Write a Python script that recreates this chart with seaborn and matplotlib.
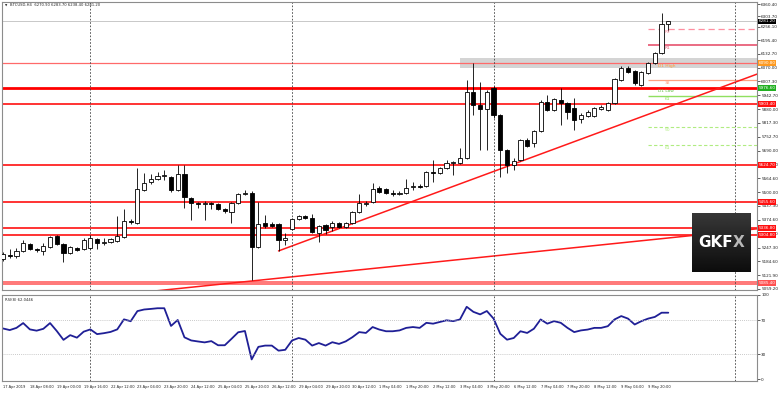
import numpy as np
import pandas as pd
import matplotlib
matplotlib.use("Agg")
import matplotlib.pyplot as plt
import seaborn as sns

# BTCUSD H4 candles
opens = [5195, 5213, 5209, 5232, 5264, 5241, 5232, 5250, 5300, 5264,
         5223, 5245, 5241, 5245, 5287, 5268, 5273, 5277, 5296, 5369,
         5360, 5510, 5547, 5561, 5574, 5570, 5510, 5584, 5474, 5451,
         5446, 5451, 5446, 5424, 5410, 5451, 5492, 5497, 5250, 5360,
         5355, 5355, 5282, 5332, 5378, 5392, 5382, 5314, 5350, 5341,
         5360, 5341, 5360, 5410, 5446, 5456, 5520, 5515, 5497, 5494,
         5497, 5524, 5529, 5529, 5590, 5588, 5611, 5634, 5634, 5657,
         5958, 5899, 5881, 5977, 5853, 5693, 5625, 5648, 5739, 5725,
         5780, 5913, 5876, 5922, 5908, 5885, 5835, 5849, 5849, 5881,
         5876, 5908, 6013, 6068, 6054, 5990, 6045, 6091, 6137, 6270.9]
highs = [5227, 5241, 5245, 5282, 5268, 5245, 5268, 5300, 5305, 5268,
         5255, 5250, 5291, 5305, 5291, 5291, 5291, 5392, 5424, 5378,
         5611, 5588, 5584, 5593, 5602, 5574, 5625, 5625, 5478, 5455,
         5460, 5456, 5451, 5428, 5455, 5497, 5510, 5506, 5456, 5396,
         5364, 5360, 5314, 5382, 5396, 5396, 5401, 5350, 5355, 5369,
         5364, 5364, 5414, 5492, 5460, 5542, 5529, 5520, 5510, 5506,
         5561, 5547, 5538, 5597, 5648, 5616, 5648, 5643, 5702, 6013,
         6091, 6004, 5967, 5985, 5858, 5698, 5657, 5744, 5748, 5785,
         5922, 5945, 5931, 5977, 5913, 5931, 5862, 5876, 5890, 5899,
         5913, 6022, 6077, 6077, 6059, 6054, 6095, 6141, 6320, 6283.7]
lows = [5186, 5200, 5200, 5227, 5236, 5227, 5213, 5245, 5259, 5181,
        5218, 5232, 5236, 5241, 5241, 5259, 5268, 5273, 5291, 5355,
        5355, 5506, 5538, 5556, 5556, 5501, 5506, 5428, 5373, 5428,
        5373, 5423, 5419, 5405, 5360, 5446, 5487, 5099, 5245, 5337,
        5341, 5232, 5259, 5327, 5373, 5378, 5314, 5273, 5309, 5323,
        5337, 5337, 5355, 5405, 5437, 5451, 5497, 5492, 5483, 5487,
        5492, 5510, 5519, 5524, 5547, 5584, 5606, 5579, 5629, 5652,
        5853, 5693, 5693, 5840, 5570, 5588, 5602, 5643, 5707, 5707,
        5775, 5871, 5871, 5807, 5835, 5785, 5817, 5844, 5844, 5876,
        5871, 5904, 6009, 6045, 5990, 5986, 6040, 6086, 6132, 6238.4]
closes = [5218, 5209, 5232, 5268, 5241, 5236, 5255, 5296, 5264, 5223,
          5250, 5236, 5282, 5291, 5268, 5273, 5287, 5300, 5369, 5364,
          5515, 5542, 5561, 5574, 5577, 5510, 5584, 5478, 5451, 5446,
          5451, 5446, 5424, 5414, 5451, 5492, 5497, 5250, 5355, 5346,
          5346, 5282, 5291, 5378, 5392, 5382, 5318, 5346, 5328, 5360,
          5341, 5360, 5410, 5451, 5451, 5515, 5501, 5497, 5494, 5497,
          5520, 5529, 5526, 5593, 5588, 5611, 5634, 5638, 5657, 5958,
          5899, 5881, 5958, 5853, 5693, 5625, 5643, 5739, 5712, 5780,
          5913, 5876, 5926, 5908, 5867, 5830, 5853, 5867, 5885, 5890,
          5908, 6018, 6068, 6050, 5999, 6050, 6091, 6137, 6271, 6281.2]

rsi_values = [60.3, 58.4, 61, 66.7, 59.2, 57.7, 59.9, 66.7, 57.3, 46.8,
              52.4, 49.4, 56.5, 59.2, 53.6, 54.7, 56.2, 59.2, 71.1, 68.9,
              80.9, 82.8, 83.5, 84.3, 84.3, 63.3, 70.4, 49.8, 46.1, 44.9,
              43.8, 45.3, 40.4, 40.4, 48, 55.8, 57.3, 23.6, 38.5, 40,
              40, 34, 35, 46, 49, 47, 40, 43, 40, 44,
              42, 45, 50, 56, 55, 62, 59, 57, 57, 58,
              61, 62, 61, 67, 66, 68, 70, 69, 71, 86,
              80, 77, 81, 72, 54, 47, 49, 57, 55, 60,
              71, 66, 69, 67, 61, 56, 58, 59, 61, 61,
              63, 71, 75, 72, 65, 69, 72, 74, 79, 79]

time_labels = ["17 Apr 2019", "18 Apr 08:00", "19 Apr 00:00", "19 Apr 16:00",
               "22 Apr 12:00", "23 Apr 04:00", "23 Apr 20:00", "24 Apr 12:00",
               "25 Apr 04:00", "25 Apr 20:00", "26 Apr 12:00", "29 Apr 04:00",
               "29 Apr 20:00", "30 Apr 12:00", "1 May 04:00", "1 May 20:00",
               "2 May 12:00", "3 May 04:00", "3 May 20:00", "6 May 12:00",
               "7 May 04:00", "7 May 20:00", "8 May 12:00", "9 May 04:00",
               "9 May 20:00"]
separator_bars = [13, 43, 73, 109]

price_ticks = [6360.40, 6303.70, 6256.10, 6195.40, 6132.70, 6070.00, 6007.30,
               5942.70, 5880.00, 5817.30, 5752.70, 5690.00, 5627.30, 5564.60,
               5500.00, 5437.30, 5374.60, 5311.90, 5247.30, 5184.60, 5121.90,
               5059.20]
rsi_ticks = [100, 70, 30, 0]

# support / resistance levels
d1_high = 6090.8
d1_low = 5976.6
red_levels = [5903.4, 5624.7, 5455.6, 5336.8, 5304.8]
bottom_level = 5085.4
band_low, band_high = 6068.0, 6113.7
band_start = 68

# daily pivot / fib lines on the right
pivot_start = 96
pivot_prices = [6246.2, 6173.1, 6013.1, 5940.0, 5798.3, 5716.0]
pivot_names = ["R2", "R1", "38", "61", "50", "61"]

# trend lines (bar, price)
trend_up = [(41, 5232), (112.2, 6040)]
trend_low = [(22, 5047), (112.2, 5333)]

last_price = 6281.20
title = "BTCUSD,H4  6270.90 6283.70 6238.40 6281.20"
rsi_title = "RSI(8) 62.0446"

sns.set_theme(style="white")
plt.rcParams["font.family"] = ["DejaVu Sans"]

W, H = 780, 394
fig = plt.figure(figsize=(7.8, 3.94), dpi=100)
fig.patch.set_facecolor("white")
ax = fig.add_axes([2 / W, 1 - 290 / H, 755 / W, 288 / H])
ax2 = fig.add_axes([2 / W, 1 - 381 / H, 755 / W, 86 / H])

xmax = 112.2
n = len(opens)
df = pd.DataFrame({"bar": np.arange(n), "open": opens, "high": highs,
                   "low": lows, "close": closes})
up = df["close"] >= df["open"]
body = (df["close"] - df["open"]).abs().clip(lower=2.5)
base = df[["open", "close"]].min(axis=1)

# band + levels
ax.fill_between([band_start, xmax], band_low, band_high, color="#d4d4d4", lw=0, zorder=1)
ax.axhline(last_price, color="#c8c8c8", lw=0.7, zorder=1)
ax.axhline(d1_high, color="#ff6a6a", lw=0.9, zorder=2)
ax.axhline(d1_low, color="#ff0000", lw=2.0, zorder=2)
for p in red_levels:
    ax.axhline(p, color="#ff1010", lw=1.2, zorder=2)
ax.axhline(bottom_level + 6, color="#ff6060", lw=1.2, zorder=2)
ax.axhline(bottom_level - 6, color="#ff6060", lw=1.2, zorder=2)

pivot_styles = [("#ff8fa0", (0, (5, 3)), 0.9), ("#e8607a", "-", 1.3),
                ("#ffa080", "-", 0.9), ("#90e060", "-", 1.0),
                ("#b0ec80", (0, (3, 2)), 0.8), ("#b0ec80", (0, (3, 2)), 0.8)]
for p, name, (c, ls, lw) in zip(pivot_prices, pivot_names, pivot_styles):
    ax.hlines(p, pivot_start, xmax, color=c, ls=ls, lw=lw, zorder=2)
    ax.text(pivot_start + 2.5, p - 6, name, fontsize=3.2, color=c, va="top", zorder=6)
ax.text(pivot_start + 1.5, d1_high - 6, "D1 High", fontsize=3.2, color="#ff9a30", va="top", zorder=6)
ax.text(pivot_start + 1.5, d1_low - 6, "D1 Low", fontsize=3.2, color="#60c040", va="top", zorder=6)

for tl in (trend_up, trend_low):
    ax.plot([tl[0][0], tl[1][0]], [tl[0][1], tl[1][1]], color="#ff1a1a", lw=1.1, zorder=2)

for b in separator_bars:
    ax.axvline(b, color="#404040", ls=(0, (2, 2)), lw=0.6, zorder=2)
    ax2.axvline(b, color="#404040", ls=(0, (2, 2)), lw=0.6, zorder=2)

# candles
ax.vlines(df["bar"], df["low"], df["high"], color="black", lw=0.6, zorder=3)
ax.bar(df["bar"][up], body[up], bottom=base[up], width=0.62, color="white",
       edgecolor="black", lw=0.6, zorder=4)
ax.bar(df["bar"][~up], body[~up], bottom=base[~up], width=0.62, color="black",
       edgecolor="black", lw=0.6, zorder=4)

ax.set_xlim(-0.15, xmax)
ax.set_ylim(5053.4, 6369.6)
ax.set_xticks([])
ax.yaxis.tick_right()
ax.set_yticks(price_ticks)
ax.set_yticklabels([f"{t:.2f}" for t in price_ticks])
ax.tick_params(axis="y", labelsize=3.0, length=2, width=0.5, pad=1, colors="#202020")
ax.text(0.004, 0.993, "\u25bc", transform=ax.transAxes, fontsize=2.2, va="top")
ax.text(0.011, 0.995, title, transform=ax.transAxes, fontsize=2.7, va="top")

# price tags on the right
tags = [(last_price, "black"), (d1_high, "#ff9a20"), (d1_low, "#22b022")]
tags += [(p, "#ff1010") for p in red_levels] + [(bottom_level, "#ff5050")]
for p, c in tags:
    ax.text(1.002, p, f"{p:.2f}", transform=ax.get_yaxis_transform(), fontsize=3.0,
            color="white", va="center", ha="left", clip_on=False, zorder=7,
            bbox=dict(boxstyle="square,pad=0.15", fc=c, ec="none"))

# RSI panel
sns.lineplot(x=df["bar"], y=rsi_values, ax=ax2, color="#1f1f96", lw=1.3)
ax2.axhline(70, color="#b8b8b8", ls=(0, (1, 1.5)), lw=0.6)
ax2.axhline(30, color="#b8b8b8", ls=(0, (1, 1.5)), lw=0.6)
ax2.set_xlim(-0.15, xmax)
ax2.set_ylim(-2, 100)
ax2.set_xlabel("")
ax2.set_ylabel("")
ax2.yaxis.tick_right()
ax2.set_yticks(rsi_ticks)
ax2.tick_params(axis="y", labelsize=3.0, length=2, width=0.5, pad=1, colors="#202020")
ax2.set_xticks(df["bar"][::4])
ax2.set_xticklabels(time_labels)
ax2.tick_params(axis="x", labelsize=2.6, length=2, width=0.5, pad=1.2, colors="#202020")
for lbl in ax2.get_xticklabels():
    lbl.set_ha("left")
ax2.text(0.004, 0.96, rsi_title, transform=ax2.transAxes, fontsize=2.7, va="top")

for a in (ax, ax2):
    for s in a.spines.values():
        s.set_color("#8c8c8c")
        s.set_linewidth(0.8)

# GKFX logo
logo = fig.add_axes([692 / W, 1 - 272 / H, 59 / W, 59 / H])
grad = np.linspace(0.22, 0.05, 64).reshape(-1, 1)
logo.imshow(grad, cmap="gray", vmin=0, vmax=1, aspect="auto", extent=[0, 1, 0, 1])
logo.text(0.69, 0.5, "GKF", color="white", fontsize=11, fontweight="bold",
          ha="right", va="center", family="DejaVu Sans")
logo.text(0.69, 0.5, "X", color="#b8b8b8", fontsize=11, fontweight="bold",
          ha="left", va="center", family="DejaVu Sans")
logo.set_axis_off()

fig.savefig("out.png", dpi=100)
